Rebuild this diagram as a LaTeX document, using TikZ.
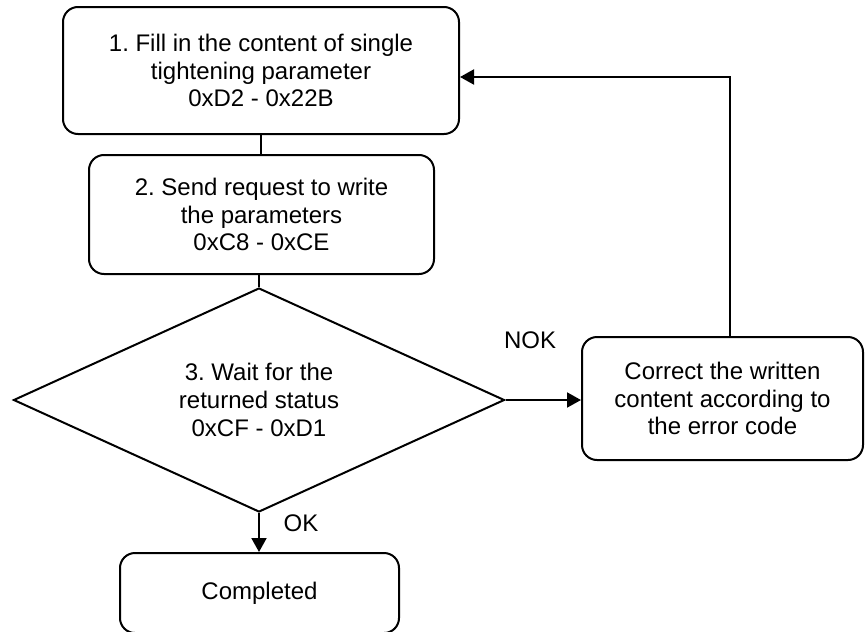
\documentclass[tikz,border=0pt]{standalone}
\usepackage{fontspec}
\setmainfont{Liberation Sans}
\usetikzlibrary{shapes.geometric,arrows.meta}
\frenchspacing
\begin{document}
\begin{tikzpicture}[x=1pt,y=-1pt,
  every node/.style={font=\fontsize{24}{27.6}\selectfont},
  procbox/.style={draw, line width=2pt, rounded corners=15pt, align=center, inner sep=0pt},
  decbox/.style={draw, line width=2pt, diamond, align=center, inner sep=0pt, minimum width=491pt, minimum height=224pt, aspect=2.19},
  conn/.style={line width=2pt},
  arr/.style={line width=2pt, -{Triangle[length=14pt,width=15pt]}},
  lbl/.style={inner sep=0pt}]
\useasboundingbox (0,0) rectangle (865,632);
\node[procbox, minimum width=396pt, minimum height=127pt] (b1) at (261,70.5)
  {1. Fill in the content of single\\tightening parameter\\0xD2 - 0x22B};
\node[procbox, minimum width=345pt, minimum height=119pt] (b2) at (261.5,214.5)
  {2. Send request to write\\the parameters\\0xC8 - 0xCE};
\node[decbox] (d) at (259,400) {3. Wait for the\\returned status\\0xCF - 0xD1};
\node[procbox, minimum width=281pt, minimum height=123pt] (c) at (722.5,398.5)
  {Correct the written\\content according to\\the error code};
\node[procbox, minimum width=279pt, minimum height=80pt] (done) at (259.5,593)
  {Completed};
\node[lbl] (nok) at (530,340) {NOK};
\node[lbl] (ok) at (301,523) {OK};
\coordinate (cup) at (730,337);
\coordinate (corner) at (730,77);
\coordinate (b1in) at (460,77);
\draw[conn] (b1.south -| 261,0) -- (b2.north -| 261,0);
\draw[conn] (b2.south -| d.north) -- (d.north);
\draw[arr] (d.east) -- (c.west |- d.east);
\draw[arr] (d.south) -- (done.north -| d.south);
\draw[arr] (cup) -- (corner) -- (b1in);
\end{tikzpicture}
\end{document}
